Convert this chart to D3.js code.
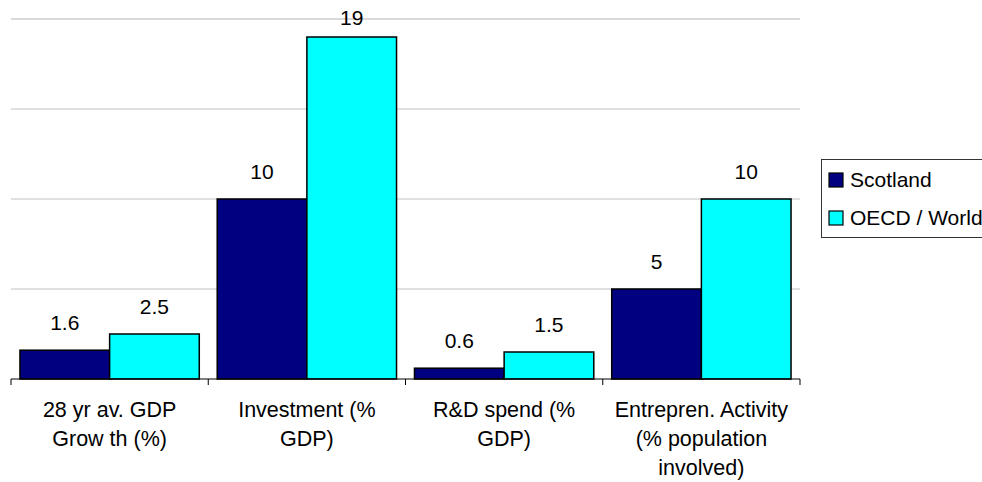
<!DOCTYPE html>
<html>
<head>
<meta charset="utf-8">
<script src="https://cdn.jsdelivr.net/npm/d3@7"></script>
<style>
  body { margin: 0; background: #fff; }
  svg { display: block; font-family: "Liberation Sans", Arial, sans-serif; }
</style>
</head>
<body>
<svg width="982" height="482"></svg>
<script>
"use strict";
// categories, each split into the lines shown under the axis
const categories = ["GDP growth", "Investment", "R&D", "Entrepreneurship"];
const categoryLines = [
    ["28 yr av. GDP", "Grow th (%)"],
    ["Investment (%", "GDP)"],
    ["R&D spend (%", "GDP)"],
    ["Entrepren. Activity", "(% population", "involved)"]
];
const seriesNames = ["Scotland", "OECD / World"];
const scotland = [1.6, 10, 0.6, 5];
const oecdWorld = [2.5, 19, 1.5, 10];
const gridTicks = [0, 5, 10, 15, 20];
const colours = ["#000080", "#00ffff"];

window.addEventListener("load", drawChart);

function drawChart() {
    const svg = d3.select("svg");
    const left = 11, right = 800, top = 19, bottom = 379;

    const x = d3.scaleBand().domain(categories).range([left, right]).paddingInner(0).paddingOuter(0);
    const xSeries = d3.scaleBand().domain(seriesNames).range([0, x.bandwidth()]).paddingOuter(0.1).paddingInner(0);
    const y = d3.scaleLinear().domain([0, 20]).range([bottom, top]);

    // gridlines
    svg.append("g").selectAll("line")
        .data(gridTicks.filter(t => t > 0))
        .join("line")
            .attr("x1", left).attr("x2", right)
            .attr("y1", d => y(d)).attr("y2", d => y(d))
            .attr("stroke", d => d === 20 ? "#d9d9d9" : "#c0c0c0")
            .attr("stroke-width", d => d === 20 ? 2 : 1);

    const rows = categories.map((c, i) => ({cat: c, values: [scotland[i], oecdWorld[i]]}));

    const groups = svg.append("g").selectAll("g")
        .data(rows)
        .join("g")
            .attr("transform", d => `translate(${x(d.cat)},0)`);

    groups.selectAll("rect")
        .data(d => d.values.map((v, j) => ({name: seriesNames[j], value: v, j: j})))
        .join("rect")
            .attr("x", d => xSeries(d.name))
            .attr("y", d => y(d.value))
            .attr("width", xSeries.bandwidth())
            .attr("height", d => y(0) - y(d.value))
            .attr("fill", d => colours[d.j])
            .attr("stroke", "#000")
            .attr("stroke-width", 1.5);

    // value labels, kept inside the top of the chart like Excel does
    groups.selectAll("text.val")
        .data(d => d.values.map((v, j) => ({name: seriesNames[j], value: v})))
        .join("text")
            .attr("class", "val")
            .attr("x", d => xSeries(d.name) + xSeries.bandwidth() / 2)
            .attr("y", d => Math.max(y(d.value) - 20, 25))
            .attr("text-anchor", "middle")
            .attr("font-size", 21)
            .attr("fill", "#000")
            .text(d => d.value);

    // x axis
    const xAxis = svg.append("g").attr("transform", `translate(0,${bottom})`);
    xAxis.append("line")
        .attr("x1", left).attr("x2", right)
        .attr("stroke", "#000").attr("stroke-width", 1.2);
    xAxis.selectAll("line.tick")
        .data(categories.map(c => x(c)).concat([right]))
        .join("line")
            .attr("class", "tick")
            .attr("x1", d => d).attr("x2", d => d)
            .attr("y1", 0).attr("y2", 6)
            .attr("stroke", "#000");

    const catLabels = svg.append("g").selectAll("text")
        .data(categories)
        .join("text")
            .attr("x", d => x(d) + x.bandwidth() / 2)
            .attr("y", 417)
            .attr("text-anchor", "middle")
            .attr("font-size", 21.5)
            .attr("fill", "#000");
    catLabels.selectAll("tspan")
        .data((d, i) => categoryLines[i])
        .join("tspan")
            .attr("x", function() { return d3.select(this.parentNode).attr("x"); })
            .attr("dy", (d, i) => i === 0 ? 0 : 29)
            .text(d => d);

    // legend
    const legend = svg.append("g");
    legend.append("rect")
        .attr("x", 821.5).attr("y", 159.5)
        .attr("width", 200).attr("height", 78)
        .attr("fill", "#fff").attr("stroke", "#333");
    const items = legend.selectAll("g")
        .data(seriesNames)
        .join("g")
            .attr("transform", (d, i) => `translate(829,${173 + i * 38})`);
    items.append("rect")
        .attr("width", 14).attr("height", 14)
        .attr("fill", (d, i) => colours[i])
        .attr("stroke", "#000").attr("stroke-width", 1.2);
    items.append("text")
        .attr("x", 21).attr("y", 14)
        .attr("font-size", 21)
        .text(d => d);
}
</script>
</body>
</html>
